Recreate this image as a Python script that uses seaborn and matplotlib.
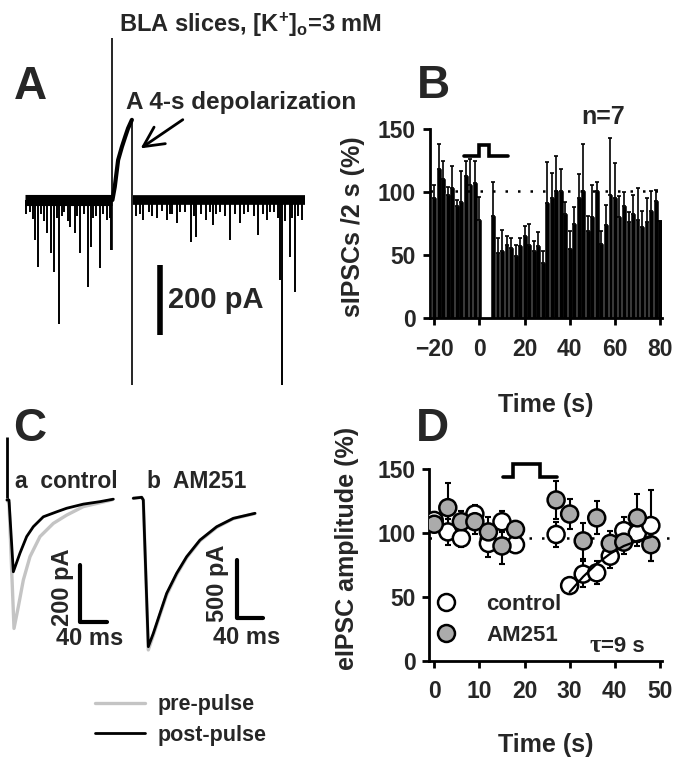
import numpy as np
import pandas as pd
import seaborn as sns
import matplotlib.pyplot as plt

W, H = 675, 764

# ---------------- data ----------------
# A: raw sIPSC trace (time in s, current in pA, baseline = 0)
a_pre = [0.0, 18.4]
a_post = [22.7, 58.9]
a_spike_t = [0.3, 1.0, 1.6, 2.1, 2.7, 3.4, 4.0, 4.6, 5.4, 6.1, 6.7, 7.2, 7.8, 8.3, 9.0, 9.5,
             10.5, 11.0, 11.6, 12.4, 13.2, 13.8, 14.4, 15.0, 15.8, 16.5, 17.2, 17.8, 18.2,
             23.4, 24.2, 24.9, 26.0, 26.8, 27.7, 28.8, 29.8, 30.5, 31.0, 31.9, 32.7, 33.6,
             34.9, 35.5, 36.1, 37.0, 38.2, 38.9, 39.6, 40.3, 41.0, 42.0, 43.2, 44.2, 45.3,
             46.2, 47.0, 48.2, 49.1, 50.0, 50.9, 51.6, 52.4, 53.2, 53.7, 54.1, 54.8, 55.8,
             56.3, 56.8, 57.5, 58.3]
a_spike_depth = [40, 35, 55, 114, 190, 40, 60, 95, 152, 205, 50, 354, 45, 35, 60, 76,
                 95, 45, 152, 40, 248, 133, 50, 45, 195, 40, 57, 50, 143,
                 45, 40, 57, 35, 45, 52, 30, 57, 40, 40, 67, 35, 35,
                 119, 45, 105, 40, 57, 35, 71, 40, 35, 45, 114, 40, 67,
                 40, 35, 45, 100, 40, 57, 35, 35, 50, 229, 529, 60, 162,
                 50, 262, 45, 57]
a_rise_t = [18.4, 18.9, 19.6, 20.4, 21.1, 21.7, 22.5]
a_rise_pA = [0, 38, 114, 152, 181, 205, 229]
a_on_t, a_on_lo, a_on_hi = 18.4, -143, 463
a_off_t, a_off_lo, a_off_hi = 22.6, -529, 229
a_scale_t, a_scale_pA = 28.4, [-186, -386]

# B: sIPSC count per 2 s bin (% of control)
b_time = [-20, -18, -16, -14, -12, -10, -8, -6, -4, -2, 0,
          6, 8, 10, 12, 14, 16, 18, 20, 22, 24, 26, 28, 30, 32, 34, 36, 38, 40,
          42, 44, 46, 48, 50, 52, 54, 56, 58, 60, 62, 64, 66, 68, 70, 72, 74, 76, 78, 80]
b_mean = [95, 118, 110, 98, 103, 89, 92, 113, 106, 107, 78,
          81, 52, 53, 58, 56, 49, 57, 65, 58, 53, 57, 44, 91, 95, 101, 101, 83, 55,
          75, 95, 101, 69, 80, 101, 59, 74, 98, 95, 80, 89, 76, 83, 78, 72, 76, 85, 93, 77]
b_top = [106, 138, 125, 104, 121, 94, 117, 125, 126, 125, 96,
         108, 64, 70, 65, 64, 58, 64, 73, 75, 61, 68, 53, 124, 115, 129, 118, 92, 69,
         88, 114, 138, 81, 106, 108, 69, 90, 143, 123, 97, 100, 84, 98, 103, 85, 95, 101, 102, 77]
b_baseline = 101
b_stim_t = [-7, 0, 0, 4.4, 4.4, 12.5]
b_stim_y = [128.5, 128.5, 137.5, 137.5, 128.5, 128.5]

# C: averaged eIPSCs (time in ms, current in pA)
ca_art_t, ca_art_top = -0.5, 230
ca_post_t = [0, 3, 9.5, 19.5, 29.5, 39.5, 54.5, 74.5, 89.5, 114.5, 139.5, 159.5]
ca_post = [0, 0, -261, -193, -133, -97, -61, -43, -30, -15, -6, 3]
ca_pre_t = [0, 3, 10.5, 17, 24.5, 34.5, 49.5, 69.5, 89.5, 114.5, 139.5, 157]
ca_pre = [0, -11, -467, -388, -291, -206, -133, -85, -55, -24, -10, 0]
cb_t = [0, 12.6, 15, 22.5, 30, 40, 50, 65, 80, 100, 125, 150, 182.5]
cb_post = [15, 23, 0, -1257, -1143, -971, -800, -628, -486, -343, -229, -157, -114]
cb_pre = [15, 23, 0, -1285, -1160, -985, -815, -640, -495, -350, -235, -160, -116]

# D: eIPSC amplitude (% of control)
d_time = [0, 3, 6, 9, 12, 15, 18, 27, 30, 33, 36, 39, 42, 45, 48]
d_ctrl = [110, 101, 96, 115, 92, 109, 91, 99, 59, 68, 69, 82, 102, 100, 106]
d_ctrl_err = [5, 10, 7, 7, 11, 8, 6, 10, 5, 10, 9, 9, 11, 10, 28]
d_am = [107, 120, 109, 109, 101, 90, 103, 126, 115, 94, 112, 92, 93, 112, 91]
d_am_err = [4, 19, 8, 10, 12, 14, 5, 15, 12, 14, 13, 10, 9, 19, 13]
d_fit_t = [30, 33, 36, 39, 42, 45, 48]
d_fit_amp = [54, 66, 76, 84, 90, 94, 97]
d_baseline = 96.5
d_stim_t = [15.3, 17.5, 17.5, 23.4, 23.4, 27.1]
d_stim_y = [144, 144, 154.5, 154.5, 144, 144]

# ---------------- style ----------------
sns.set_style('ticks')
plt.rcParams['font.family'] = ['Liberation Sans', 'DejaVu Sans']
plt.rcParams['font.weight'] = 'bold'
plt.rcParams['axes.labelweight'] = 'bold'
plt.rcParams['mathtext.fontset'] = 'custom'
plt.rcParams['mathtext.rm'] = 'Liberation Sans:bold'
plt.rcParams['mathtext.bf'] = 'Liberation Sans:bold'
plt.rcParams['mathtext.default'] = 'rm'

fig = plt.figure(figsize=(6.75, 7.64), dpi=100)


def px_axes(l, t, r, b):
    return fig.add_axes([l / W, 1 - b / H, (r - l) / W, (b - t) / H])


def ftext(x, y, s, **kw):
    kw.setdefault('ha', 'center')
    kw.setdefault('va', 'center')
    fig.text(x / W, 1 - y / H, s, **kw)


def style_axis(ax):
    sns.despine(ax=ax)
    for sp in ('left', 'bottom'):
        ax.spines[sp].set_linewidth(2)
        ax.spines[sp].set_color('black')
    ax.tick_params(width=2, length=5, labelsize=16.5, color='black')
    ax.tick_params(axis='x', pad=9)
    ax.tick_params(axis='y', pad=5)
    for lab in ax.get_xticklabels() + ax.get_yticklabels():
        lab.set_fontweight('bold')
    ax.set_facecolor('none')


ftext(250, 25, r'BLA slices, [K$^{+}$]$_{o}$=3 mM', fontsize=17)

# ---------------- A ----------------
axA = px_axes(20, 30, 320, 395)
axA.axis('off')
axA.set_xlim(-1.053, 62.1)
axA.set_ylim(-557, 485.7)
axA.hlines([0, 0], [a_pre[0], a_post[0]], [a_pre[1], a_post[1]], color='black', lw=[8, 7])
axA.vlines(a_spike_t, 0, -np.array(a_spike_depth), color='black', lw=1.4)
sns.lineplot(x=a_rise_t, y=a_rise_pA, color='black', lw=3, sort=False, estimator=None, ax=axA)
axA.vlines([a_on_t, a_off_t], [a_on_lo, a_off_lo], [a_on_hi, a_off_hi], color='black', lw=1.2)
axA.vlines(a_scale_t, a_scale_pA[0], a_scale_pA[1], color='black', lw=4)
axA.text(a_scale_t + 1.7, np.mean(a_scale_pA), '200 pA', fontsize=21, va='center', ha='left')
axA.annotate('', xy=(23.85, 143), xytext=(33.7, 234),
             arrowprops=dict(arrowstyle='->,head_length=0.8,head_width=0.4', lw=2, color='black',
                             mutation_scale=18))
ftext(126, 103, 'A 4-s depolarization', fontsize=17.5, ha='left')
ftext(30, 87, 'A', fontsize=33)

# ---------------- B ----------------
axB = px_axes(430, 129, 661.7, 318.3)
dfB = pd.DataFrame({'time': b_time, 'rate': b_mean})
sns.barplot(data=dfB, x='time', y='rate', native_scale=True, color='black', saturation=1,
            width=0.85, errorbar=None, edgecolor='black', linewidth=0.4, ax=axB)
b_err = np.array(b_top) - np.array(b_mean)
axB.errorbar(b_time, b_mean, yerr=[np.zeros(len(b_err)), b_err], fmt='none', ecolor='black',
             elinewidth=1.2, capsize=1.5, capthick=1.2)
axB.plot([-21.9, 82], [b_baseline, b_baseline], color='black', lw=1.8, ls=(0, (1, 4)), clip_on=False)
axB.plot(b_stim_t, b_stim_y, color='black', lw=2.6, solid_joinstyle='miter')
axB.set_xlim(-21.9, 80.7)
axB.set_ylim(0, 150)
axB.set_xticks([-20, 0, 20, 40, 60, 80])
axB.set_yticks([0, 50, 100, 150])
style_axis(axB)
axB.set_ylabel('sIPSCs /2 s (%)', fontsize=18, va='center')
axB.yaxis.set_label_coords(-0.332, 0.482)
axB.set_xlabel('Time (s)', fontsize=18, va='center')
axB.xaxis.set_label_coords(0.5, -0.458)
ftext(603, 117, 'n=7', fontsize=18)
ftext(433, 86, 'B', fontsize=33)

# ---------------- C ----------------
axCa = px_axes(0, 420, 130, 660)
axCa.axis('off')
axCa.set_xlim(-10.5, 184.5)
axCa.set_ylim(-581.8, 290.9)
axCa.vlines(ca_art_t, 0, ca_art_top, color='black', lw=2)
pre_line, = axCa.plot(ca_pre_t, ca_pre, color='#c4c4c4', lw=2.4, label='pre-pulse')
post_line, = axCa.plot(ca_post_t, ca_post, color='black', lw=2, label='post-pulse')
axCa.plot([109.5, 109.5, 149.5], [-236, -442.5, -442.5], color='black', lw=3)
axCa.text(82.5, -318, '200 pA', rotation=90, fontsize=17, ha='center', va='center')
axCa.text(124.5, -505, '40 ms', fontsize=17, ha='center', va='center')

axCb = px_axes(130, 420, 290, 660)
axCb.axis('off')
axCb.set_xlim(-4.95, 235)
axCb.set_ylim(-1371, 685.6)
sns.lineplot(x=cb_t, y=cb_pre, color='#c4c4c4', lw=2.4, sort=False, estimator=None, ax=axCb)
sns.lineplot(x=cb_t, y=cb_post, color='black', lw=2, sort=False, estimator=None, ax=axCb)
axCb.plot([156, 156, 195], [-515, -1015, -1015], color='black', lw=3)
axCb.text(127, -716, '500 pA', rotation=90, fontsize=17, ha='center', va='center')
axCb.text(170, -1174, '40 ms', fontsize=17, ha='center', va='center')

ftext(15, 488, 'a  control', fontsize=16.5, ha='left', va='baseline')
ftext(147, 488, 'b  AM251', fontsize=16.5, ha='left', va='baseline')
ftext(30, 429, 'C', fontsize=33)
fig.legend(handles=[pre_line, post_line], loc='center left', bbox_to_anchor=(95 / W, 1 - 720 / H),
           frameon=False, prop={'size': 15.5, 'weight': 'bold'}, handlelength=2.3,
           handletextpad=0.6, labelspacing=0.45, borderpad=0, borderaxespad=0)

# ---------------- D ----------------
axD = px_axes(429.3, 469.3, 661.7, 661)
axD.errorbar(d_time, d_ctrl, yerr=d_ctrl_err, fmt='none', ecolor='black', elinewidth=1.5,
             capsize=2.2, capthick=1.5, zorder=2)
axD.errorbar(d_time, d_am, yerr=d_am_err, fmt='none', ecolor='black', elinewidth=1.5,
             capsize=2.2, capthick=1.5, zorder=2)
dfD = pd.DataFrame({'time': d_time * 2, 'amp': d_ctrl + d_am,
                    'group': ['control'] * len(d_time) + ['AM251'] * len(d_time)})
sns.scatterplot(data=dfD, x='time', y='amp', hue='group',
                palette={'control': 'white', 'AM251': '#ababab'}, s=150,
                edgecolor='black', linewidth=1.8, ax=axD, zorder=3)
axD.plot(d_fit_t, d_fit_amp, color='black', lw=1.6, zorder=4)
axD.plot([-1.1, 54], [d_baseline, d_baseline], color='black', lw=1.8, ls=(0, (1, 4)),
         clip_on=False, zorder=1)
axD.plot(d_stim_t, d_stim_y, color='black', lw=2.6, clip_on=False, solid_joinstyle='miter')
axD.set_xlim(-1.1, 50.4)
axD.set_ylim(0, 150)
axD.set_xticks([0, 10, 20, 30, 40, 50])
axD.set_yticks([0, 50, 100, 150])
style_axis(axD)
axD.set_ylabel('eIPSC amplitude (%)', fontsize=18, va='center')
axD.yaxis.set_label_coords(-0.354, 0.589)
axD.set_xlabel('Time (s)', fontsize=18, va='center')
axD.xaxis.set_label_coords(0.5, -0.438)
leg = axD.legend(title=None, frameon=False, loc='center left', bbox_to_anchor=(0.025, 0.215),
                 prop={'size': 16, 'weight': 'bold'}, handlelength=1, handletextpad=1.3,
                 labelspacing=0.45, borderpad=0, borderaxespad=0)
for h in leg.legend_handles:
    h.set_markeredgecolor('black')
    h.set_markeredgewidth(1.8)
    h.set_markersize(12.2)
ftext(590, 646, 'τ', fontsize=18, ha='left', family='Liberation Serif')
ftext(601, 646, '=9 s', fontsize=16, ha='left')
ftext(432, 429, 'D', fontsize=33)

fig.savefig('out.png', dpi=100)
